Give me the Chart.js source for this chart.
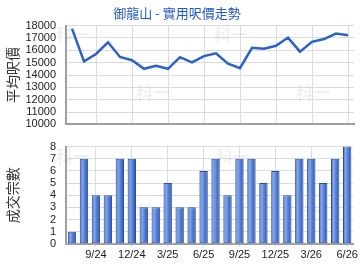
<!DOCTYPE html>
<html>
<head>
<meta charset="utf-8">
<script src="https://cdn.jsdelivr.net/npm/chart.js@4"></script>
<style>
  body { margin: 0; background: #fff; }
  #wrap { position: relative; width: 360px; height: 270px; }
  #c1 { position: absolute; left: 0; top: 0; }
  #c2 { position: absolute; left: 0; top: 130px; }
</style>
</head>
<body>
<div id="wrap">
  <canvas id="c1" width="360" height="141"></canvas>
  <canvas id="c2" width="360" height="140"></canvas>
</div>
<script>
const months = ['7/24','8/24','9/24','10/24','11/24','12/24','1/25','2/25','3/25','4/25','5/25','6/25',
                '7/25','8/25','9/25','10/25','11/25','12/25','1/26','2/26','3/26','4/26','5/26','6/26'];
const shownTicks = ['9/24','12/24','3/25','6/25','9/25','12/25','3/26','6/26'];
const avgPrice = [17750, 15100, 15700, 16650, 15460, 15200, 14500, 14750, 14500, 15440, 15020, 15530,
                  15760, 14920, 14550, 16200, 16120, 16370, 17030, 15890, 16680, 16910, 17360, 17210];
const deals = [1, 7, 4, 4, 7, 7, 3, 3, 5, 3, 3, 6, 7, 4, 7, 7, 5, 6, 4, 7, 7, 5, 7, 8];

const FONT = '"Liberation Sans", Arial, "Noto Sans CJK TC", sans-serif';
const CJK = '"Noto Sans CJK TC", sans-serif';
const gridCol = '#dcdcdc';
const axisCol = '#a0a0a0';

Chart.defaults.font.family = FONT;
Chart.defaults.color = '#333';
Chart.defaults.animation = false;

// faint "科一" watermark behind the plot
const watermark = {
  id: 'watermark',
  beforeDatasetsDraw(chart, args, opts) {
    const ctx = chart.ctx;
    ctx.save();
    ctx.font = 'bold 17px "Noto Sans CJK TC"';
    ctx.fillStyle = 'rgba(0,0,0,0.06)';
    ctx.textBaseline = 'middle';
    opts.spots.forEach(p => ctx.fillText('科一', p[0], p[1]));
    ctx.restore();
  }
};

const fixWidth = (s) => { s.width = 66; };
const gridByTick = (c) => shownTicks.includes(months[c.index]) ? gridCol : 'rgba(0,0,0,0)';

new Chart(document.getElementById('c1'), {
  type: 'line',
  data: {
    labels: months,
    datasets: [{
      data: avgPrice,
      borderColor: '#2a62c8',
      borderWidth: 2.5,
      pointRadius: 0,
      tension: 0
    }]
  },
  options: {
    responsive: false,
    layout: { padding: { right: 6, bottom: 0 } },
    plugins: {
      legend: { display: false },
      tooltip: { enabled: false },
      title: {
        display: true,
        text: '御龍山 - 實用呎價走勢',
        color: '#2258c4',
        font: { size: 13, weight: 'normal', family: CJK },
        padding: { top: 5, bottom: 5 }
      },
      watermark: { spots: [[56, 35], [214, 35], [136, 93], [296, 93]] }
    },
    scales: {
      x: {
        offset: true,
        grid: { offset: false, color: gridByTick, drawTicks: false },
        border: { color: axisCol, width: 2 },
        ticks: { display: false }
      },
      y: {
        min: 10000, max: 18000,
        afterFit: fixWidth,
        grid: { color: gridCol, drawTicks: false },
        border: { color: axisCol, width: 2 },
        ticks: { stepSize: 1000, autoSkip: false, padding: 10, font: { size: 11 }, color: '#222',
                 callback: (v) => String(v) },
        title: { display: true, text: '平均呎價', font: { size: 14, family: CJK }, color: '#333', padding: { top: 4, bottom: 0 } }
      }
    }
  },
  plugins: [watermark]
});

function barFill(c) {
  const chart = c.chart;
  const xs = chart.scales.x;
  if (!xs || c.index === undefined) return '#4a72cc';
  const cx = xs.getPixelForValue(c.index);
  if (!isFinite(cx)) return '#4a72cc';
  const w = 8.4;
  const g = chart.ctx.createLinearGradient(cx - w / 2, 0, cx + w / 2, 0);
  g.addColorStop(0, '#3560c2');
  g.addColorStop(0.3, '#86a8ea');
  g.addColorStop(0.55, '#5b84d6');
  g.addColorStop(1, '#2a52b2');
  return g;
}

new Chart(document.getElementById('c2'), {
  type: 'bar',
  data: {
    labels: months,
    datasets: [{
      data: deals,
      backgroundColor: barFill,
      borderColor: '#2a4ca4',
      borderWidth: 1,
      borderSkipped: false,
      categoryPercentage: 1,
      barPercentage: 0.7
    }]
  },
  options: {
    responsive: false,
    layout: { padding: { top: 0, right: 6, bottom: 6 } },
    plugins: {
      legend: { display: false },
      tooltip: { enabled: false },
      watermark: { spots: [[56, 27], [216, 27], [136, 82], [296, 82]] }
    },
    scales: {
      x: {
        offset: true,
        grid: { offset: false, color: gridByTick, tickLength: 3 },
        border: { color: axisCol, width: 2 },
        ticks: {
          autoSkip: false, maxRotation: 0, padding: 2,
          font: { size: 11 }, color: '#222',
          callback: (v, i) => shownTicks.includes(months[i]) ? months[i] : ''
        }
      },
      y: {
        min: 0, max: 8,
        afterFit: fixWidth,
        grid: { color: gridCol, drawTicks: false },
        border: { color: axisCol, width: 2 },
        ticks: { stepSize: 1, autoSkip: false, padding: 10, font: { size: 11 }, color: '#222' },
        title: { display: true, text: '成交宗數', font: { size: 14, family: CJK }, color: '#333', padding: { top: 4, bottom: 0 } }
      }
    }
  },
  plugins: [watermark]
});
</script>
</body>
</html>
